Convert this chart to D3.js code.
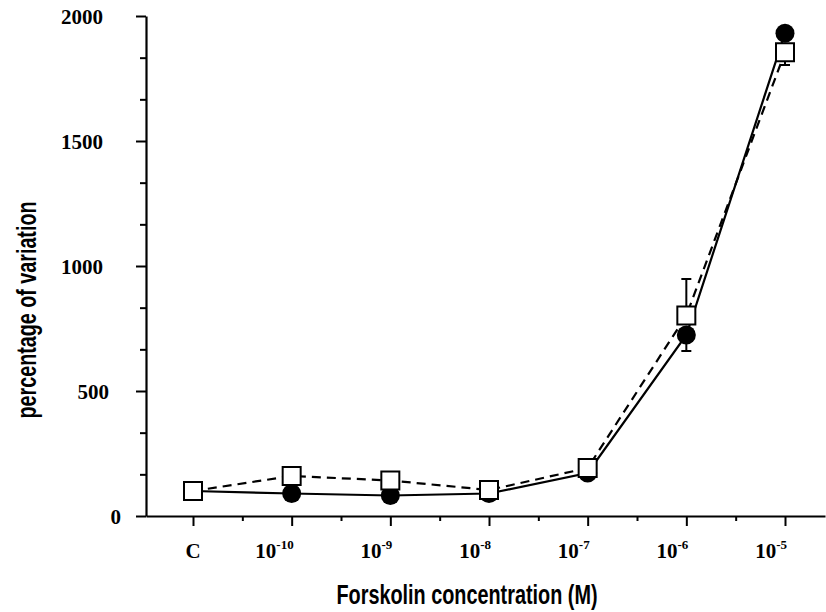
<!DOCTYPE html>
<html>
<head>
<meta charset="utf-8">
<script src="https://cdn.jsdelivr.net/npm/d3@7"></script>
<style>
  html, body { margin: 0; padding: 0; background: #fff; }
  svg { display: block; }
</style>
</head>
<body>
<svg id="chart" width="826" height="612"></svg>
<script>
// ---- data ----
const categories = ["C", "-10", "-9", "-8", "-7", "-6", "-5"]; // C = control, others are exponents of 10 (M)
const circleValues = [100, 90, 82, 90, 172, 724, 1931];   // filled circles, solid line
const squareValues = [100, 160, 142, 104, 192, 802, 1855]; // open squares, dashed line
const circleErrLow = [0, 0, 0, 0, 0, 64, 0];
const circleErrHigh = [0, 0, 0, 0, 0, 0, 0];
const squareErrLow = [0, 0, 0, 0, 0, 0, 51];
const squareErrHigh = [0, 0, 0, 0, 0, 146, 0];
const yMajorTicks = [0, 500, 1000, 1500, 2000];
const yTitle = "percentage of variation";
const xTitle = "Forskolin concentration (M)";

// ---- layout ----
const svg = d3.select("#chart");
const X0 = 146, X1 = 825;          // x-axis extent
const Y0 = 516, Y1 = 16;           // y for 0 and 2000

const x = d3.scaleLinear().domain([0, categories.length - 1]).range([193, 785]);
const xAxisScale = d3.scaleLinear().domain([x.invert(X0), x.invert(X1)]).range([X0, X1]);
const y = d3.scaleLinear().domain([0, 2000]).range([Y0, Y1]);

const idx = d3.range(categories.length);
const yMinor = d3.range(0, 2000, 500 / 3).filter(v => yMajorTicks.every(t => Math.abs(t - v) > 1));
const xMinor = d3.range(0.5, categories.length - 1, 1);

// ---- y axis ----
const gy = svg.append("g").attr("transform", `translate(${X0},0)`);
gy.call(d3.axisLeft(y).tickValues(yMinor).tickSize(6).tickSizeOuter(0).tickFormat(""));
gy.call(g => g.selectAll(".domain").remove());
const gyMaj = svg.append("g").attr("transform", `translate(${X0},0)`);
gyMaj.call(d3.axisLeft(y).tickValues(yMajorTicks).tickSize(10).tickSizeOuter(0).tickFormat(d3.format("d")).tickPadding(33));
[gy, gyMaj].forEach(g => {
  g.selectAll("line").attr("stroke", "#000").attr("stroke-width", 2);
  g.selectAll(".domain").attr("stroke", "#000").attr("stroke-width", 2.2);
});
// labels in the original are padded as if to a 4-character field
gyMaj.selectAll("text")
  .attr("font-family", "'Liberation Serif', 'Times New Roman', serif")
  .attr("font-weight", "bold")
  .attr("font-size", 21)
  .attr("fill", "#000")
  .attr("dy", "0.36em")
  .attr("dx", d => 6 * (4 - String(d).length));

// ---- x axis ----
const gx = svg.append("g").attr("transform", `translate(0,${Y0})`);
gx.call(d3.axisBottom(xAxisScale).tickValues(idx).tickSize(10).tickSizeOuter(0).tickFormat(""));
const gxMin = svg.append("g").attr("transform", `translate(0,${Y0})`);
gxMin.call(d3.axisBottom(xAxisScale).tickValues(xMinor).tickSize(5).tickSizeOuter(0).tickFormat(""));
gxMin.selectAll(".domain").remove();
[gx, gxMin].forEach(g => {
  g.selectAll("line").attr("stroke", "#000").attr("stroke-width", 2);
  g.selectAll(".domain").attr("stroke", "#000").attr("stroke-width", 2.2);
});

// x tick labels
const xl = svg.append("g")
  .attr("font-family", "'Liberation Serif', 'Times New Roman', serif")
  .attr("font-weight", "bold")
  .attr("fill", "#000");
idx.forEach(i => {
  const c = categories[i];
  const t = xl.append("text").attr("y", 558).attr("font-size", 21);
  if (c === "C") {
    t.attr("x", x(i)).attr("text-anchor", "middle").text("C");
  } else {
    t.attr("x", x(i) + 2).attr("text-anchor", "end");
    t.append("tspan").text("10");
    t.append("tspan").attr("font-size", 13).attr("dy", -9).text(c);
  }
});

// axis titles (condensed sans, like Helvetica Condensed in the original)
svg.append("text")
  .attr("transform", `translate(36,310) rotate(-90)`)
  .attr("text-anchor", "middle")
  .attr("font-family", "'Liberation Sans Narrow', 'Arial Narrow', 'Liberation Sans', sans-serif")
  .attr("font-weight", "bold")
  .attr("font-size", 27)
  .attr("textLength", 217)
  .attr("lengthAdjust", "spacingAndGlyphs")
  .attr("fill", "#000")
  .text(yTitle);
svg.append("text")
  .attr("x", 467).attr("y", 604)
  .attr("text-anchor", "middle")
  .attr("font-family", "'Liberation Sans Narrow', 'Arial Narrow', 'Liberation Sans', sans-serif")
  .attr("font-weight", "bold")
  .attr("font-size", 27)
  .attr("textLength", 261)
  .attr("lengthAdjust", "spacingAndGlyphs")
  .attr("fill", "#000")
  .text(xTitle);

// ---- lines ----
const line = d3.line().x((d, i) => x(i)).y(d => y(d));
svg.append("path").datum(circleValues)
  .attr("d", line).attr("fill", "none").attr("stroke", "#000").attr("stroke-width", 2.2);
svg.append("path").datum(squareValues)
  .attr("d", line).attr("fill", "none").attr("stroke", "#000").attr("stroke-width", 2.2)
  .attr("stroke-dasharray", "9,6");

// ---- error bars ----
function errBars(values, lo, hi) {
  const g = svg.append("g").attr("stroke", "#000").attr("stroke-width", 2);
  idx.forEach(i => {
    [[lo[i], -1], [hi[i], 1]].forEach(([e, s]) => {
      if (!e) return;
      const v2 = values[i] + s * e;
      g.append("line").attr("x1", x(i)).attr("x2", x(i)).attr("y1", y(values[i])).attr("y2", y(v2));
      g.append("line").attr("x1", x(i) - 5).attr("x2", x(i) + 5).attr("y1", y(v2)).attr("y2", y(v2));
    });
  });
}
errBars(circleValues, circleErrLow, circleErrHigh);
errBars(squareValues, squareErrLow, squareErrHigh);

// ---- markers ----
svg.append("g").selectAll("circle").data(circleValues).join("circle")
  .attr("cx", (d, i) => x(i)).attr("cy", d => y(d)).attr("r", 9.5).attr("fill", "#000");
const S = 18;
svg.append("g").selectAll("rect").data(squareValues).join("rect")
  .attr("x", (d, i) => x(i) - S / 2).attr("y", d => y(d) - S / 2)
  .attr("width", S).attr("height", S)
  .attr("fill", "#fff").attr("stroke", "#000").attr("stroke-width", 2);
</script>
</body>
</html>
